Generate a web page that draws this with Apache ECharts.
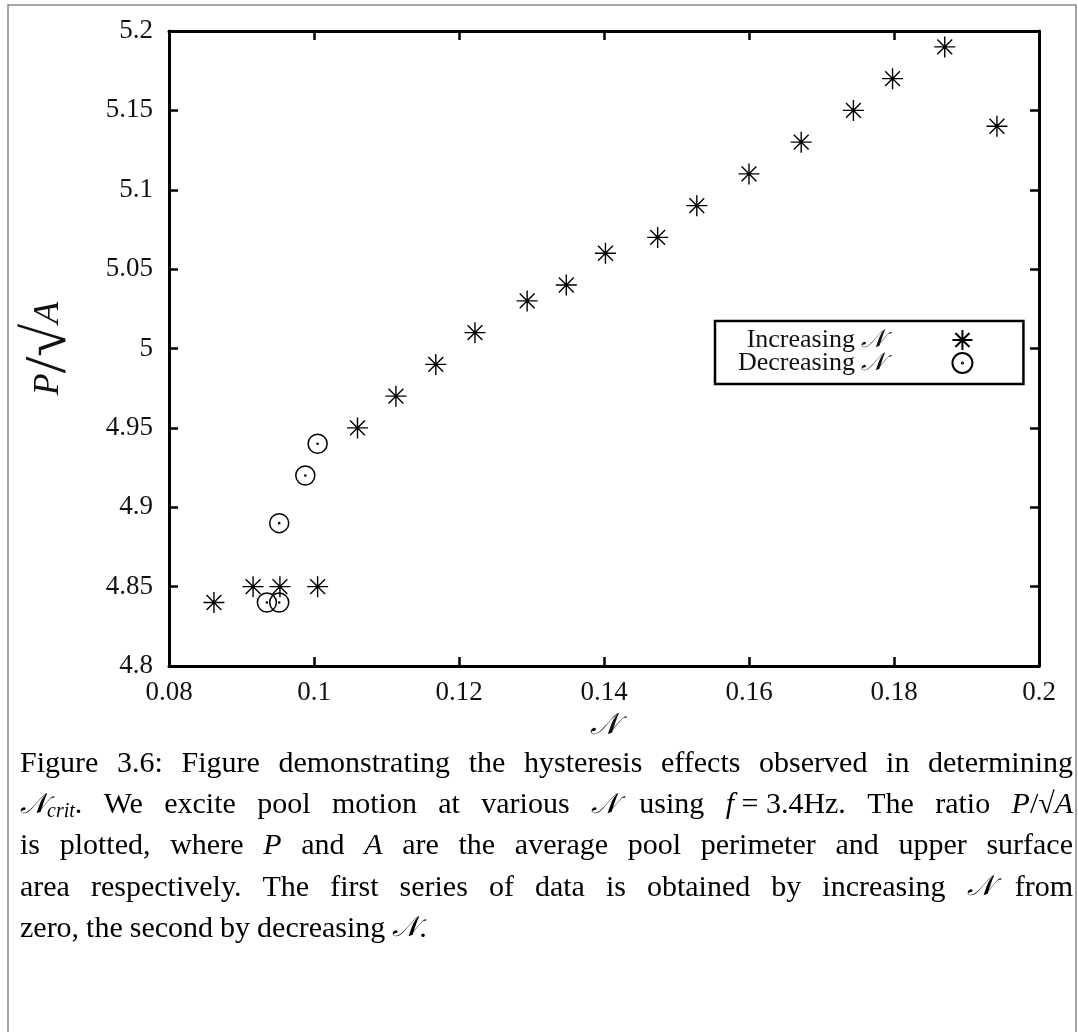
<!DOCTYPE html>
<html><head><meta charset="utf-8">
<script src="https://cdn.jsdelivr.net/npm/echarts@6/dist/echarts.min.js"></script>
<style>html,body{margin:0;padding:0;background:#fff}#c{width:1078px;height:1032px}</style>
</head><body><div id="c"></div>
<script>
// ---- data ----
const incX = [0.0862, 0.0916, 0.0953, 0.1005, 0.1060, 0.1113, 0.1168, 0.1222, 0.1294, 0.1348, 0.1402, 0.1474, 0.1528, 0.1600, 0.1672, 0.1744, 0.1798, 0.1870, 0.1942];
const incY = [4.84, 4.85, 4.85, 4.85, 4.95, 4.97, 4.99, 5.01, 5.03, 5.04, 5.06, 5.07, 5.09, 5.11, 5.13, 5.15, 5.17, 5.19, 5.14];
const decX = [0.0935, 0.0952, 0.0952, 0.0988, 0.1005];
const decY = [4.84, 4.84, 4.89, 4.92, 4.94];
const seriesNames = ['Increasing 𝒩', 'Decreasing 𝒩'];
const xName = '𝒩';
const yNameRich = '{i|P}{big|/}{big|√}{i|A}';
const captionLines = [
  'Figure 3.6: Figure demonstrating the hysteresis effects observed in determining',
  '{n|𝒩}{sub|crit}. We excite pool motion at various {n|𝒩} using {i|f}\u00a0=\u00a03.4Hz. The ratio {i|P}/√{i|A}',
  'is plotted, where {i|P} and {i|A} are the average pool perimeter and upper surface',
  'area respectively. The first series of data is obtained by increasing {n|𝒩} from',
  'zero, the second by decreasing {n|𝒩}.'
];

const SERIF = '"Liberation Serif", "DejaVu Serif", serif';
const NFONT = '"DejaVu Serif", "DejaVu Sans", "Noto Sans", serif';
const CAP = 30;

const starPath = 'path://M0,10 L20,10 M10,0 L10,20 M2.93,2.93 L17.07,17.07 M2.93,17.07 L17.07,2.93';
const odotPath = 'path://M0,10 A10,10 0 1 1 20,10 A10,10 0 1 1 0,10 Z M9.4,10 A0.6,0.6 0 1 1 10.6,10 A0.6,0.6 0 1 1 9.4,10 Z';

// caption layout (justified)
const richCap = {
  r: {fontFamily: SERIF, fontSize: CAP, color: '#111'},
  i: {fontFamily: SERIF, fontSize: CAP, fontStyle: 'italic', color: '#111'},
  n: {fontFamily: NFONT, fontSize: CAP - 2, fontStyle: 'italic', color: '#111'},
  sub: {fontFamily: SERIF, fontSize: 20, fontStyle: 'italic', color: '#111', verticalAlign: 'bottom', padding: [12, 0, 0, 0]}
};
const ctx = document.createElement('canvas').getContext('2d');
function fontOf(s) {
  const st = richCap[s];
  return (st.fontStyle ? st.fontStyle + ' ' : '') + st.fontSize + 'px ' + st.fontFamily;
}
function parse(word) {
  const segs = []; const re = /\{(\w+)\|([^}]*)\}/g; let last = 0, m;
  while ((m = re.exec(word))) {
    if (m.index > last) segs.push(['r', word.slice(last, m.index)]);
    segs.push([m[1], m[2]]); last = re.lastIndex;
  }
  if (last < word.length) segs.push(['r', word.slice(last)]);
  return segs;
}
function measure(segs) {
  let w = 0;
  segs.forEach(([s, t]) => { ctx.font = fontOf(s); w += ctx.measureText(t).width; });
  return w;
}
const capLeft = 20, capRight = 1073, capTop = 764, capStep = 41.3;
const captionGraphics = [];
captionLines.forEach((line, li) => {
  const words = line.split(' ').map(parse);
  const widths = words.map(measure);
  const total = widths.reduce((a, b) => a + b, 0);
  const justify = li < captionLines.length - 1;
  const gap = justify ? (capRight - capLeft - total) / (words.length - 1) : 7;
  let x = capLeft;
  words.forEach((segs, wi) => {
    captionGraphics.push({
      type: 'text', x: x, y: capTop + li * capStep,
      style: {text: segs.map(([s, t]) => '{' + s + '|' + t + '}').join(''), rich: richCap,
        font: CAP + 'px ' + SERIF, verticalAlign: 'middle', align: 'left'}
    });
    x += widths[wi] + gap;
  });
});

const axisCommon = {
  type: 'value', splitLine: {show: false},
  axisLine: {show: true, onZero: false, lineStyle: {color: '#000', width: 3}},
  axisTick: {show: true, inside: true, length: 9, lineStyle: {color: '#000', width: 2.5}}
};
const labelStyle = {fontFamily: SERIF, fontSize: 27, color: '#111'};

const chart = echarts.init(document.getElementById('c'), null, {renderer: 'canvas'});
chart.setOption({
  animation: false,
  backgroundColor: '#fff',
  grid: {left: 169, right: 39, top: 31, bottom: 366, containLabel: false},
  xAxis: [
    Object.assign({}, axisCommon, {min: 0.08, max: 0.2, interval: 0.02, position: 'bottom',
      axisLabel: Object.assign({margin: 13}, labelStyle),
      name: xName, nameLocation: 'middle', nameGap: 40,
      nameTextStyle: {fontFamily: NFONT, fontStyle: 'italic', fontSize: 30, color: '#111'}}),
    Object.assign({}, axisCommon, {min: 0.08, max: 0.2, interval: 0.02, position: 'top', axisLabel: {show: false}})
  ],
  yAxis: [
    Object.assign({}, axisCommon, {min: 4.8, max: 5.2, interval: 0.05, position: 'left',
      axisLabel: Object.assign({margin: 16}, labelStyle),
      name: yNameRich, nameLocation: 'middle', nameGap: 90, nameRotate: 90,
      nameTextStyle: {fontFamily: SERIF, fontSize: 34, color: '#111',
        rich: {i: {fontFamily: SERIF, fontStyle: 'italic', fontSize: 36, color: '#111'},
               big: {fontFamily: SERIF, fontSize: 60, color: '#111'}}}}),
    Object.assign({}, axisCommon, {min: 4.8, max: 5.2, interval: 0.05, position: 'right', axisLabel: {show: false}})
  ],
  legend: {
    orient: 'vertical', left: 715, top: 321, align: 'right',
    backgroundColor: '#fff', borderColor: '#000', borderWidth: 2.5, borderRadius: 0,
    padding: [6, 50, 8, 23], itemGap: -3, itemWidth: 20, itemHeight: 20,
    data: seriesNames,
    formatter: n => n.replace('𝒩', '{n|𝒩}'),
    textStyle: {fontFamily: SERIF, fontSize: 26, color: '#111', lineHeight: 22, align: 'right', padding: [0, 62, 0, 0],
      rich: {n: {fontFamily: NFONT, fontStyle: 'italic', fontSize: 25, lineHeight: 22, color: '#111'}}}
  },
  series: [
    {name: seriesNames[0], type: 'scatter', xAxisIndex: 0, yAxisIndex: 0,
      data: incX.map((x, i) => [x, incY[i]]), symbol: starPath, symbolSize: 21,
      itemStyle: {color: 'rgba(0,0,0,0)', borderColor: '#000', borderWidth: 1.4, opacity: 1}},
    {name: seriesNames[1], type: 'scatter', xAxisIndex: 0, yAxisIndex: 0,
      data: decX.map((x, i) => [x, decY[i]]), symbol: odotPath, symbolSize: 19,
      itemStyle: {color: 'rgba(0,0,0,0)', borderColor: '#000', borderWidth: 1.5, opacity: 1}}
  ],
  graphic: [
    {type: 'rect', shape: {x: 8, y: 5, width: 1068, height: 1040}, style: {fill: 'none', stroke: '#888', lineWidth: 1.5}, silent: true}
  ].concat(captionGraphics)
});
</script></body></html>
